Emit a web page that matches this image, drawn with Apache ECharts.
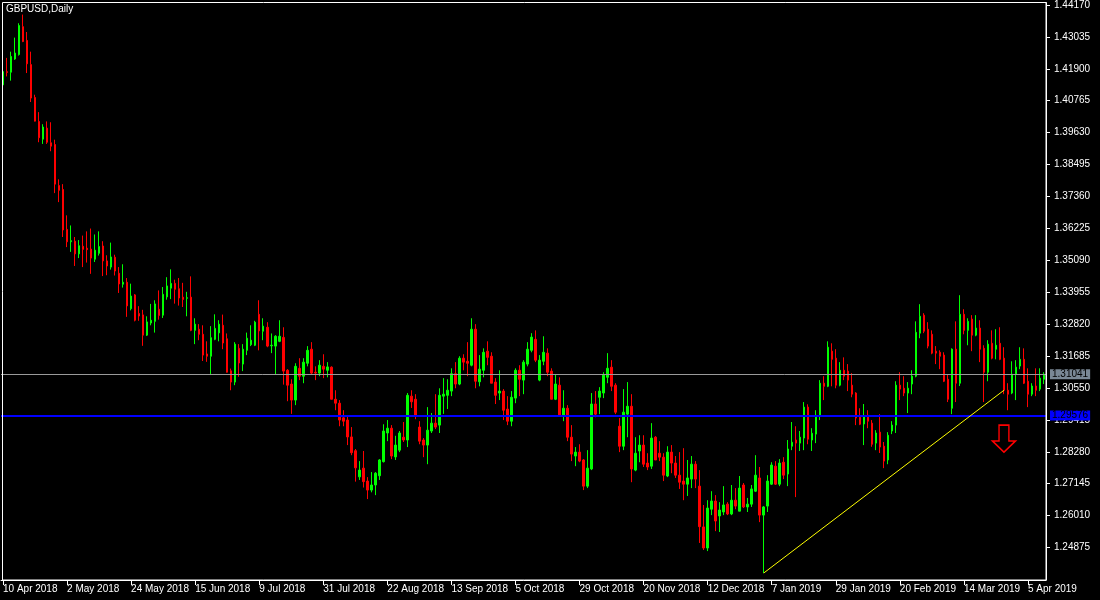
<!DOCTYPE html>
<html><head><meta charset="utf-8">
<script src="https://cdn.jsdelivr.net/npm/echarts@6/dist/echarts.min.js"></script>
<style>html,body{margin:0;padding:0;background:#000;}#c{width:1100px;height:600px;}</style>
</head><body><div id="c"></div>
<script>
// ---- data (GBPUSD daily) ----
const START_DATE = '2018-04-10';
const HOLIDAYS = ['2018-12-25', '2019-01-01'];
const OPEN = [
1.4133,1.4180,1.4178,1.4225,1.4241,1.4340,1.4291,1.4205,1.4088,1.4003,
1.3940,1.3979,1.3927,1.3921,1.3775,1.3761,1.3619,1.3575,1.3577,1.3532,
1.3559,1.3552,1.3549,1.3513,1.3534,1.3560,1.3507,1.3485,1.3520,1.3463,
1.3424,1.3431,1.3337,1.3386,1.3320,1.3315,1.3243,1.3286,1.3292,1.3335,
1.3314,1.3379,1.3410,1.3427,1.3408,1.3378,1.3374,1.3378,1.3260,1.3264,
1.3246,1.3176,1.3168,1.3228,1.3251,1.3278,1.3230,1.3116,1.3076,1.3196,
1.3140,1.3189,1.3209,1.3207,1.3317,1.3257,1.3271,1.3205,1.3204,1.3221,
1.3235,1.3118,1.3069,1.3012,1.3125,1.3097,1.3143,1.3193,1.3111,1.3108,
1.3132,1.3118,1.3129,1.3015,1.3001,1.2949,1.2941,1.2881,1.2832,1.2739,
1.2770,1.2724,1.2692,1.2710,1.2743,1.2793,1.2895,1.2912,1.2810,1.2834,
1.2880,1.2870,1.3026,1.3015,1.2916,1.2870,1.2852,1.2902,1.2930,1.2923,
1.3026,1.3029,1.3044,1.3106,1.3069,1.3161,1.3150,1.3136,1.3264,1.3077,
1.3118,1.3186,1.3168,1.3076,1.3037,1.3044,1.2980,1.2937,1.3019,1.3118,
1.3083,1.3140,1.3189,1.3228,1.3083,1.3150,1.3179,1.3115,1.3015,1.3065,
1.2958,1.2983,1.2880,1.2813,1.2827,1.2799,1.2706,1.2767,1.2998,1.3022,
1.3037,1.3093,1.3129,1.3065,1.2919,1.2848,1.2962,1.2990,1.2763,1.2831,
1.2852,1.2788,1.2777,1.2880,1.2823,1.2809,1.2742,1.2827,1.2788,1.2745,
1.2724,1.2713,1.2731,1.2784,1.2706,1.2561,1.2486,1.2624,1.2653,1.2600,
1.2614,1.2642,1.2607,1.2656,1.2617,1.2710,1.2632,1.2642,1.2688,1.2735,
1.2603,1.2635,1.2713,1.2777,1.2713,1.2791,1.2749,1.2848,1.2870,1.2859,
1.2877,1.2987,1.2870,1.2891,1.2955,1.3072,1.3061,1.3186,1.3161,1.3065,
1.3118,1.3115,1.3065,1.3037,1.2951,1.2927,1.2958,1.2930,1.2859,1.2898,
1.2848,1.2799,1.2902,1.2923,1.3065,1.3054,1.3037,1.3069,1.3097,1.3250,
1.3314,1.3264,1.3246,1.3186,1.3182,1.3172,1.3086,1.2983,1.3193,1.3072,
1.3317,1.3260,1.3300,1.3243,1.3268,1.3196,1.3111,1.3214,1.3193,1.3214,
1.3161,1.3047,1.3037,1.3104,1.3133,1.3157,1.3079,1.3033,1.3062,1.3051,
1.3086];
const CLOSE = [
1.4180,1.4177,1.4234,1.4246,1.4344,1.4287,1.4208,1.4086,1.4004,1.3945,
1.3983,1.3929,1.3915,1.3780,1.3758,1.3617,1.3575,1.3579,1.3532,1.3561,
1.3548,1.3547,1.3517,1.3545,1.3558,1.3507,1.3489,1.3521,1.3471,1.3425,
1.3431,1.3347,1.3382,1.3296,1.3311,1.3243,1.3290,1.3296,1.3354,1.3313,
1.3388,1.3418,1.3427,1.3406,1.3375,1.3370,1.3376,1.3260,1.3282,1.3246,
1.3172,1.3168,1.3234,1.3267,1.3282,1.3215,1.3111,1.3076,1.3211,1.3144,
1.3193,1.3232,1.3225,1.3289,1.3258,1.3275,1.3204,1.3207,1.3239,1.3239,
1.3115,1.3065,1.3012,1.3132,1.3097,1.3147,1.3189,1.3108,1.3108,1.3136,
1.3122,1.3130,1.3015,1.3001,1.2941,1.2937,1.2881,1.2825,1.2771,1.2763,
1.2722,1.2692,1.2710,1.2752,1.2799,1.2902,1.2912,1.2813,1.2852,1.2895,
1.2870,1.3029,1.3006,1.2958,1.2866,1.2852,1.2905,1.2930,1.2916,1.3029,
1.3033,1.3047,1.3106,1.3069,1.3161,1.3147,1.3143,1.3264,1.3079,1.3122,
1.3182,1.3164,1.3072,1.3029,1.3044,1.2976,1.2937,1.3022,1.3118,1.3086,
1.3147,1.3193,1.3236,1.3154,1.3154,1.3182,1.3111,1.3015,1.3069,1.2958,
1.2983,1.2880,1.2820,1.2827,1.2795,1.2706,1.2770,1.2998,1.2962,1.3044,
1.3101,1.3125,1.3061,1.2969,1.2848,1.2969,1.2990,1.2767,1.2823,1.2852,
1.2784,1.2774,1.2877,1.2799,1.2809,1.2745,1.2827,1.2788,1.2745,1.2720,
1.2713,1.2735,1.2784,1.2731,1.2562,1.2486,1.2628,1.2653,1.2582,1.2621,
1.2639,1.2607,1.2656,1.2635,1.2699,1.2632,1.2642,1.2696,1.2745,1.2603,
1.2632,1.2724,1.2781,1.2713,1.2788,1.2745,1.2838,1.2862,1.2859,1.2880,
1.2987,1.2873,1.2894,1.2958,1.3072,1.3061,1.3200,1.3157,1.3065,1.3118,
1.3097,1.3083,1.3033,1.2948,1.2926,1.2955,1.2937,1.2855,1.2895,1.2845,
1.2795,1.2887,1.2923,1.3065,1.3051,1.3037,1.3054,1.3097,1.3253,1.3310,
1.3257,1.3204,1.3179,1.3179,1.3168,1.3079,1.3015,1.3193,1.3072,1.3317,
1.3260,1.3292,1.3243,1.3268,1.3193,1.3111,1.3211,1.3161,1.3207,1.3157,
1.3047,1.3033,1.3104,1.3129,1.3157,1.3072,1.3033,1.3062,1.3047,1.3090,
1.3104];
const LOW = [
1.4131,1.4163,1.4148,1.4222,1.4237,1.4285,1.4175,1.4072,1.4003,1.3929,
1.3923,1.3923,1.3897,1.3748,1.3716,1.3592,1.3556,1.3539,1.3489,1.3517,
1.3485,1.3501,1.3461,1.3503,1.3526,1.3453,1.3456,1.3476,1.3455,1.3393,
1.3412,1.3308,1.3331,1.3292,1.3294,1.3205,1.3240,1.3278,1.3252,1.3298,
1.3304,1.3369,1.3371,1.3355,1.3348,1.3343,1.3310,1.3257,1.3211,1.3225,
1.3151,1.3148,1.3101,1.3225,1.3221,1.3193,1.3110,1.3047,1.3065,1.3095,
1.3115,1.3172,1.3204,1.3204,1.3189,1.3225,1.3200,1.3179,1.3104,1.3218,
1.3067,1.3008,1.2963,1.2994,1.3083,1.3072,1.3132,1.3104,1.3083,1.3097,
1.3090,1.3093,1.3015,1.2976,1.2919,1.2919,1.2852,1.2816,1.2722,1.2728,
1.2701,1.2660,1.2684,1.2674,1.2728,1.2790,1.2866,1.2802,1.2799,1.2827,
1.2863,1.2845,1.2984,1.2944,1.2855,1.2809,1.2784,1.2895,1.2909,1.2895,
1.2963,1.2980,1.3026,1.3054,1.3065,1.3118,1.3097,1.3132,1.3054,1.3061,
1.3093,1.3136,1.3072,1.2998,1.3012,1.2941,1.2923,1.2919,1.3001,1.3026,
1.3033,1.3132,1.3182,1.3147,1.3079,1.3136,1.3097,1.3015,1.3012,1.2955,
1.2937,1.2866,1.2795,1.2777,1.2791,1.2692,1.2699,1.2763,1.2951,1.2962,
1.3019,1.3072,1.3044,1.2962,1.2827,1.2834,1.2880,1.2720,1.2759,1.2791,
1.2774,1.2763,1.2767,1.2799,1.2795,1.2724,1.2738,1.2752,1.2735,1.2696,
1.2656,1.2671,1.2699,1.2699,1.2504,1.2479,1.2475,1.2603,1.2546,1.2543,
1.2603,1.2603,1.2603,1.2624,1.2617,1.2628,1.2614,1.2632,1.2685,1.2578,
1.2397,1.2614,1.2710,1.2710,1.2706,1.2731,1.2706,1.2834,1.2667,1.2831,
1.2834,1.2855,1.2831,1.2859,1.2941,1.3012,1.3058,1.3061,1.3054,1.3061,
1.3083,1.3044,1.3022,1.2923,1.2923,1.2852,1.2912,1.2846,1.2834,1.2824,
1.2770,1.2784,1.2891,1.2895,1.3012,1.3026,1.2966,1.3033,1.3093,1.3232,
1.3250,1.3196,1.3175,1.3140,1.3122,1.3076,1.3005,1.2962,1.3005,1.3062,
1.3246,1.3207,1.3186,1.3239,1.3147,1.3005,1.3079,1.3157,1.3157,1.3154,
1.3033,1.2976,1.3033,1.3012,1.3122,1.3069,1.2987,1.3026,1.3026,1.3044,
1.3069];
const HIGH = [
1.4183,1.4229,1.4251,1.4301,1.4352,1.4383,1.4321,1.4251,1.4098,1.4036,
1.3993,1.4003,1.4000,1.3938,1.3797,1.3780,1.3669,1.3633,1.3592,1.3581,
1.3597,1.3612,1.3622,1.3601,1.3612,1.3577,1.3527,1.3572,1.3529,1.3485,
1.3495,1.3446,1.3426,1.3389,1.3346,1.3333,1.3310,1.3354,1.3367,1.3402,
1.3414,1.3449,1.3477,1.3440,1.3446,1.3429,1.3397,1.3452,1.3303,1.3282,
1.3278,1.3221,1.3275,1.3317,1.3296,1.3316,1.3249,1.3124,1.3218,1.3211,
1.3211,1.3252,1.3278,1.3294,1.3367,1.3303,1.3289,1.3249,1.3243,1.3296,
1.3271,1.3122,1.3086,1.3143,1.3161,1.3161,1.3204,1.3218,1.3132,1.3154,
1.3175,1.3147,1.3132,1.3047,1.3012,1.2976,1.2958,1.2916,1.2838,1.2795,
1.2831,1.2738,1.2756,1.2756,1.2802,1.2926,1.2941,1.2923,1.2885,1.2902,
1.2934,1.3037,1.3047,1.3033,1.2937,1.2877,1.2987,1.2966,1.3033,1.3054,
1.3090,1.3086,1.3125,1.3147,1.3168,1.3175,1.3218,1.3303,1.3282,1.3172,
1.3196,1.3221,1.3182,1.3090,1.3118,1.3051,1.3026,1.3044,1.3125,1.3136,
1.3154,1.3218,1.3250,1.3260,1.3172,1.3239,1.3196,1.3125,1.3104,1.3093,
1.3047,1.2994,1.2923,1.2845,1.2855,1.2802,1.2834,1.3037,1.3044,1.3058,
1.3111,1.3179,1.3154,1.3072,1.2948,1.3051,1.3076,1.3033,1.2880,1.2887,
1.2887,1.2823,1.2930,1.2884,1.2866,1.2823,1.2848,1.2852,1.2813,1.2827,
1.2841,1.2799,1.2813,1.2795,1.2763,1.2639,1.2656,1.2688,1.2674,1.2649,
1.2706,1.2649,1.2710,1.2699,1.2742,1.2717,1.2664,1.2710,1.2816,1.2774,
1.2635,1.2745,1.2791,1.2795,1.2802,1.2809,1.2870,1.2934,1.2919,1.2902,
1.3005,1.2997,1.2912,1.2976,1.3083,1.3097,1.3221,1.3214,1.3193,1.3147,
1.3164,1.3140,1.3108,1.3040,1.2983,1.2998,1.2976,1.2941,1.2905,1.2962,
1.2863,1.2898,1.2937,1.3079,1.3111,1.3097,1.3076,1.3118,1.3292,1.3353,
1.3321,1.3289,1.3260,1.3204,1.3189,1.3182,1.3104,1.3196,1.3292,1.3385,
1.3335,1.3303,1.3314,1.3314,1.3296,1.3207,1.3225,1.3260,1.3264,1.3271,
1.3200,1.3072,1.3150,1.3154,1.3200,1.3196,1.3125,1.3072,1.3125,1.3125,
1.3111];
const PRICE_TICKS = [1.24875,1.26010,1.27145,1.28280,1.29415,1.30550,1.31685,1.32820,1.33955,
  1.35090,1.36225,1.37360,1.38495,1.39630,1.40765,1.41900,1.43035,1.44170];
const BID_PRICE = 1.31041;
const LEVEL_PRICE = 1.29576;
const TRENDLINE = [[190, 1.2397], [250, 1.3047]];   // [bar index, price]
const ARROW_AT = [250, 1.2875];                     // [bar index, price]
const Y_MIN = 1.23722, Y_MAX = 1.44255;

// ---- trading-day categories ----
const MONTHS = ['Jan','Feb','Mar','Apr','May','Jun','Jul','Aug','Sep','Oct','Nov','Dec'];
const DATES = [];
(function(){
  const d = new Date(START_DATE + 'T00:00:00Z');
  while (DATES.length < OPEN.length) {
    const iso = d.toISOString().slice(0,10);
    const wd = d.getUTCDay();
    if (wd !== 0 && wd !== 6 && HOLIDAYS.indexOf(iso) < 0) {
      DATES.push(d.getUTCDate() + ' ' + MONTHS[d.getUTCMonth()] + ' ' + d.getUTCFullYear());
    }
    d.setUTCDate(d.getUTCDate() + 1);
  }
})();

const FONT = '"Liberation Sans", Arial, sans-serif';
const candles = OPEN.map((o, i) => [o, CLOSE[i], LOW[i], HIGH[i]]);

const chart = echarts.init(document.getElementById('c'), null, {renderer: 'canvas'});
chart.setOption({
  backgroundColor: '#000',
  animation: false,
  textStyle: {fontFamily: FONT},
  title: {text: 'GBPUSD,Daily', left: 6, top: 4, padding: 0,
    textStyle: {color: '#fff', fontSize: 10, fontWeight: 'normal', fontFamily: FONT}},
  grid: {left: 0, right: 54, top: 2, bottom: 20},
  graphic: [{type: 'rect', silent: true, z: 100,
    shape: {x: 2.5, y: 2.5, width: 1043.5, height: 577.5},
    style: {fill: 'none', stroke: '#fff', lineWidth: 1}}],
  xAxis: {
    type: 'category', data: DATES, boundaryGap: true,
    axisLine: {show: true, lineStyle: {color: '#fff', width: 1}},
    axisTick: {show: true, alignWithLabel: true, interval: 15, length: 5, lineStyle: {color: '#fff'}},
    axisLabel: {interval: 15, align: 'left', color: '#fff', fontSize: 10, margin: 4, fontFamily: FONT},
    splitLine: {show: false}
  },
  yAxis: {
    type: 'value', position: 'right', min: Y_MIN, max: Y_MAX, scale: true,
    axisLine: {show: true, lineStyle: {color: '#fff', width: 1}},
    axisTick: {show: true, length: 4, customValues: PRICE_TICKS, lineStyle: {color: '#fff'}},
    axisLabel: {customValues: PRICE_TICKS, formatter: v => v.toFixed(5), color: '#fff',
      fontSize: 10, margin: 8, fontFamily: FONT},
    splitLine: {show: false}
  },
  series: [{
    type: 'candlestick',
    data: candles,
    barWidth: 2,
    itemStyle: {color: '#00ff00', color0: '#ff0000', borderColor: '#00ff00', borderColor0: '#ff0000', borderWidth: 1},
    emphasis: {disabled: true},
    markLine: {
      silent: true, symbol: ['none', 'none'], animation: false, precision: 5,
      data: [
        {yAxis: BID_PRICE, lineStyle: {color: '#9a9a9a', width: 1, type: 'solid'},
          label: {show: true, position: 'end', distance: 4, formatter: p => Number(p.value).toFixed(5),
            color: '#000', backgroundColor: '#7a8896', padding: [0, 2, 0, 2], fontSize: 10, lineHeight: 10, fontFamily: FONT}},
        {yAxis: LEVEL_PRICE, lineStyle: {color: '#0000ff', width: 2, type: 'solid'},
          label: {show: true, position: 'end', distance: 4, formatter: p => Number(p.value).toFixed(5),
            color: '#000', backgroundColor: '#0000ff', padding: [0, 2, 0, 2], fontSize: 10, lineHeight: 10, fontFamily: FONT}},
        [{coord: TRENDLINE[0], lineStyle: {color: '#ffff00', width: 1, type: 'solid'}, label: {show: false}},
         {coord: TRENDLINE[1]}]
      ]
    },
    markPoint: {
      silent: true, animation: false, precision: 5,
      data: [{coord: ARROW_AT,
        symbol: 'path://M20 0L50 0L50 47L70 47L35 80L0 47L20 47Z', symbolSize: [23, 27],
        itemStyle: {color: 'rgba(0,0,0,0)', borderColor: '#ff0000', borderWidth: 1.5},
        label: {show: false}}]
    }
  }]
});
</script>
</body></html>
